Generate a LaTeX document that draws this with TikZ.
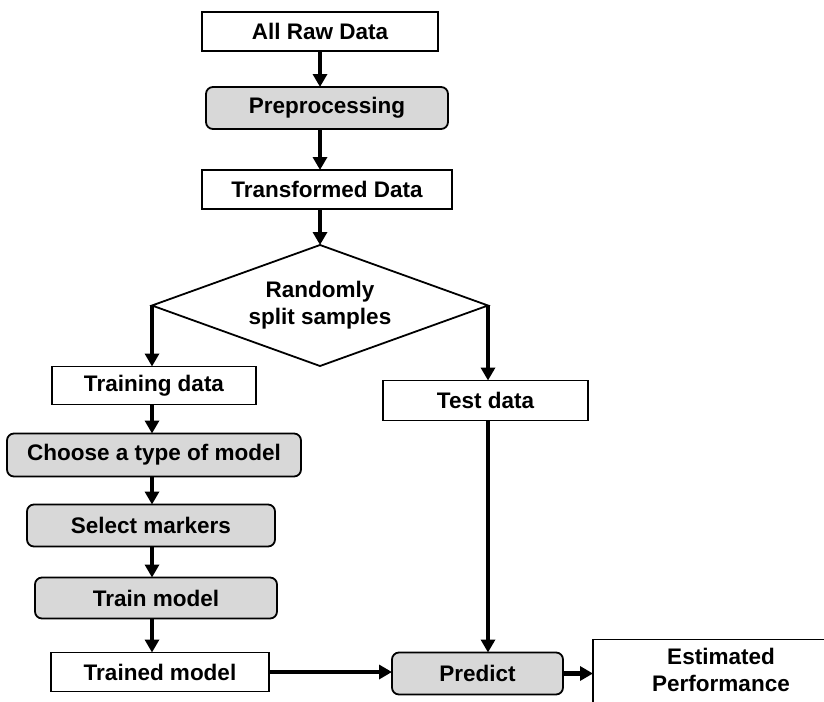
\documentclass[tikz,border=0pt]{standalone}
\usepackage{fontspec}
\setmainfont{Liberation Sans}
\usetikzlibrary{arrows.meta, positioning, shapes.geometric}
\definecolor{procgray}{RGB}{216,216,216}

\begin{document}
\begin{tikzpicture}[
x=1pt, y=1pt,
font=\fontsize{22.5}{27}\selectfont\bfseries,
box/.style={draw, rectangle, line width=1.8pt, outer sep=0pt,
minimum height=39pt, inner sep=2pt, align=center},
proc/.style={box, rounded corners=7pt, fill=procgray, minimum height=42pt},
split/.style={draw, diamond, line width=1.8pt, outer sep=0pt, aspect=2.78, 
minimum width=336pt, minimum height=121pt, inner sep=0pt, align=center},
arrow/.style={-{Triangle[length=13pt, width=14pt]}, line width=4.5pt}
]
\useasboundingbox (0,0) rectangle (824,-701);

\node[box, minimum width=236pt] (raw) at (320,-31.5) {All Raw Data};
\node[proc, below=36pt of raw, xshift=7pt, minimum width=242pt] (prep) {Preprocessing};
\node[box, below=41pt of prep, minimum width=250pt] (trans) {Transformed Data};
\node[split, below=36pt of trans, xshift=-7pt] (split) {Randomly\\split samples};

\node[box, below=61pt of split.west, xshift=2pt, minimum width=204pt, minimum height=38pt] (train) {Training data};
\node[proc, below=29pt of train, minimum width=294pt, minimum height=43pt] (choose) {Choose a type of model};
\node[proc, below=28pt of choose, xshift=-3pt, minimum width=248pt] (select) {Select markers};
\node[proc, below=31pt of select, xshift=5pt, minimum width=242pt, minimum height=41pt] (trainmod) {Train model};
\node[box, below=34pt of trainmod, xshift=4pt, minimum width=218pt] (trained) {Trained model};

\node[box, below=75pt of split.east, xshift=-2.5pt, minimum width=205pt, minimum height=40pt] (test) {Test data};
\node[proc, right=123pt of trained, yshift=-1.5pt, minimum width=171pt] (predict) {Predict};
\node[box, right=30pt of predict, yshift=-3pt, minimum width=256pt, minimum height=74pt, text depth=14pt] (est) {Estimated\\Performance};

\draw[arrow] (raw.south) -- (raw.south |- prep.north);
\draw[arrow] (raw.south |- prep.south) -- (raw.south |- trans.north);
\draw[arrow] (raw.south |- trans.south) -- (split.north);
\draw[arrow] (split.west) -- (split.west |- train.north);
\draw[arrow] (split.east) -- (split.east |- test.north);
\draw[arrow] (train.south -| split.west) -- (split.west |- choose.north);
\draw[arrow] (choose.south -| split.west) -- (split.west |- select.north);
\draw[arrow] (select.south -| split.west) -- (split.west |- trainmod.north);
\draw[arrow] (trainmod.south -| split.west) -- (split.west |- trained.north);
\draw[arrow] (trained.east) -- (trained.east -| predict.west);
\draw[arrow] (test.south -| split.east) -- (split.east |- predict.north);
\draw[arrow] (predict.east) -- (predict.east -| est.west);

\end{tikzpicture}
\end{document}
